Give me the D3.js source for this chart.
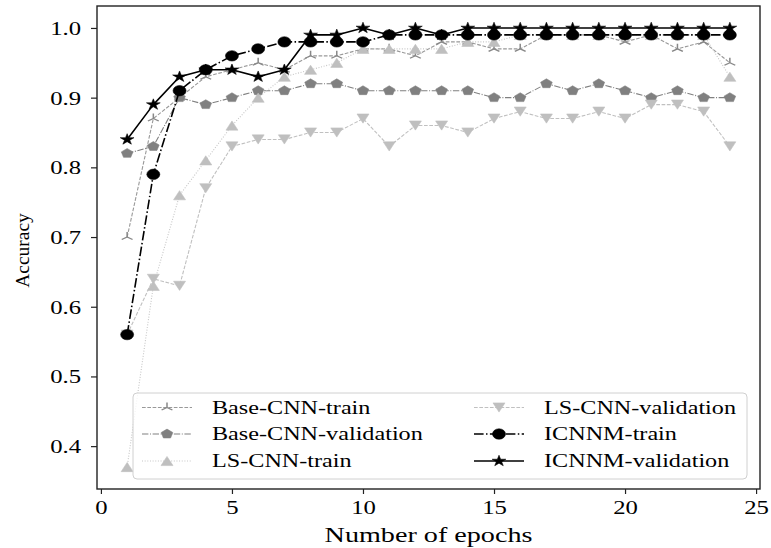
<!DOCTYPE html>
<html>
<head>
<meta charset="utf-8">
<script src="https://cdn.jsdelivr.net/npm/d3@7"></script>
<style>
  body { margin: 0; background: #fff; }
  svg { display: block; }
  text { font-family: "Liberation Serif", "Times New Roman", serif; fill: #000; }
</style>
</head>
<body>
<svg id="chart" width="771" height="548"></svg>
<script>
// Training / validation accuracy per epoch for three models
const epochs = [1, 2, 3, 4, 5, 6, 7, 8, 9, 10, 11, 12, 13, 14, 15, 16, 17, 18, 19, 20, 21, 22, 23, 24];

const baseCnnTrain = [0.70, 0.87, 0.90, 0.93, 0.94, 0.95, 0.94, 0.96, 0.96, 0.97, 0.97, 0.96,
                      0.98, 0.98, 0.97, 0.97, 0.99, 0.99, 0.99, 0.98, 0.99, 0.97, 0.98, 0.95];
const baseCnnVal   = [0.82, 0.83, 0.90, 0.89, 0.90, 0.91, 0.91, 0.92, 0.92, 0.91, 0.91, 0.91,
                      0.91, 0.91, 0.90, 0.90, 0.92, 0.91, 0.92, 0.91, 0.90, 0.91, 0.90, 0.90];
const lsCnnTrain   = [0.37, 0.63, 0.76, 0.81, 0.86, 0.90, 0.93, 0.94, 0.95, 0.97, 0.97, 0.97,
                      0.97, 0.98, 0.98, 0.99, 0.99, 0.99, 0.99, 0.99, 0.99, 0.99, 0.99, 0.93];
const lsCnnVal     = [0.56, 0.64, 0.63, 0.77, 0.83, 0.84, 0.84, 0.85, 0.85, 0.87, 0.83, 0.86,
                      0.86, 0.85, 0.87, 0.88, 0.87, 0.87, 0.88, 0.87, 0.89, 0.89, 0.88, 0.83];
const icnnmTrain   = [0.56, 0.79, 0.91, 0.94, 0.96, 0.97, 0.98, 0.98, 0.98, 0.98, 0.99, 0.99,
                      0.99, 0.99, 0.99, 0.99, 0.99, 0.99, 0.99, 0.99, 0.99, 0.99, 0.99, 0.99];
const icnnmVal     = [0.84, 0.89, 0.93, 0.94, 0.94, 0.93, 0.94, 0.99, 0.99, 1.00, 0.99, 1.00,
                      0.99, 1.00, 1.00, 1.00, 1.00, 1.00, 1.00, 1.00, 1.00, 1.00, 1.00, 1.00];

const seriesNames = ["Base-CNN-train", "Base-CNN-validation", "LS-CNN-train",
                     "LS-CNN-validation", "ICNNM-train", "ICNNM-validation"];
const xTicks = [0, 5, 10, 15, 20, 25];
const yTicks = [0.4, 0.5, 0.6, 0.7, 0.8, 0.9, 1.0];
const xTitle = "Number of epochs";
const yTitle = "Accuracy";

// Visual style for each series
const styles = [
  { line: "#999",    width: 1.1, dash: "3.7,1.6",          marker: "tri",      mcolor: "#888" },
  { line: "#808080", width: 1.1, dash: "6.4,1.6,1,1.6",    marker: "pentagon", mcolor: "#808080" },
  { line: "#c6c6c6", width: 1.1, dash: "1,1.65",           marker: "triUp",    mcolor: "#bfbfbf" },
  { line: "#c0c0c0", width: 1.1, dash: "3.7,1.6",          marker: "triDown",  mcolor: "#bfbfbf" },
  { line: "#000",    width: 1.6, dash: "9.6,2.4,1.5,2.4",  marker: "circle",   mcolor: "#000" },
  { line: "#000",    width: 1.6, dash: null,               marker: "star",     mcolor: "#000" }
];
const allSeries = [baseCnnTrain, baseCnnVal, lsCnnTrain, lsCnnVal, icnnmTrain, icnnmVal];

const svg = d3.select("#chart");
const plot = { left: 97, right: 760, top: 6, bottom: 489 };
const WIDE = 1.3;   // horizontal widening applied to text

const x = d3.scaleLinear().domain([-0.15, 25.15]).range([plot.left, plot.right]);
const y = d3.scaleLinear().domain([0.3385, 1.0315]).range([plot.bottom, plot.top]);

// Marker shapes, centred on the origin
function markerPath(kind) {
  if (kind === "circle") {
    const r = 5.2;
    return `M${r},0A${r},${r} 0 1 1 ${-r},0A${r},${r} 0 1 1 ${r},0Z`;
  }
  if (kind === "pentagon") {
    const r = 4.9;
    return "M" + d3.range(5).map(k => {
      const a = (-90 + k * 72) * Math.PI / 180;
      return [r * Math.cos(a), r * Math.sin(a)].join(",");
    }).join("L") + "Z";
  }
  if (kind === "triUp") {
    const w = 4.8, h = 4.6;
    return `M0,${-h}L${-w},${h}L${w},${h}Z`;
  }
  if (kind === "triDown") {
    const w = 4.8, h = 4.6;
    return `M0,${h}L${-w},${-h}L${w},${-h}Z`;
  }
  if (kind === "star") {
    const R = 5.8, r = R * 0.382;
    return "M" + d3.range(10).map(k => {
      const a = (-90 + k * 36) * Math.PI / 180;
      const rr = k % 2 === 0 ? R : r;
      return [rr * Math.cos(a), rr * Math.sin(a)].join(",");
    }).join("L") + "Z";
  }
  // three-armed "tri up" marker
  const R = 5;
  return `M0,0L0,${-R}M0,0L${-R * 0.866},${R * 0.5}M0,0L${R * 0.866},${R * 0.5}`;
}

function drawMarker(g, st, cx, cy) {
  const p = g.append("path")
    .attr("d", markerPath(st.marker))
    .attr("transform", `translate(${cx},${cy}) scale(1.25,1)`);
  if (st.marker === "tri") {
    p.attr("fill", "none").attr("stroke", st.mcolor).attr("stroke-width", 1.2);
  } else {
    p.attr("fill", st.mcolor).attr("stroke", st.mcolor).attr("stroke-width", 0.5);
  }
}

// Clip region for the data
svg.append("defs").append("clipPath").attr("id", "plotClip")
  .append("rect")
  .attr("x", plot.left).attr("y", plot.top)
  .attr("width", plot.right - plot.left).attr("height", plot.bottom - plot.top);

const dataG = svg.append("g").attr("clip-path", "url(#plotClip)");
const line = d3.line().x((d, i) => x(epochs[i])).y(d => y(d));

allSeries.forEach((vals, si) => {
  const st = styles[si];
  const g = dataG.append("g");
  g.append("path")
    .attr("d", line(vals))
    .attr("fill", "none")
    .attr("stroke", st.line)
    .attr("stroke-width", st.width)
    .attr("stroke-dasharray", st.dash)
    .attr("stroke-linejoin", "round");
  vals.forEach((v, i) => drawMarker(g, st, x(epochs[i]), y(v)));
});

// Widen text horizontally by a factor, keeping its anchor
function stretch(sel, factor) {
  sel.each(function () {
    const w = this.getComputedTextLength();
    d3.select(this).attr("textLength", w * factor).attr("lengthAdjust", "spacingAndGlyphs");
  });
}

// Axes
const xAxis = svg.append("g")
  .attr("transform", `translate(0,${plot.bottom})`)
  .call(d3.axisBottom(x).tickValues(xTicks).tickSize(5).tickPadding(7).tickFormat(d3.format("d")));
const yAxis = svg.append("g")
  .attr("transform", `translate(${plot.left},0)`)
  .call(d3.axisLeft(y).tickValues(yTicks).tickSize(6).tickPadding(10).tickFormat(d3.format(".1f")));

[xAxis, yAxis].forEach(ax => {
  ax.select(".domain").remove();
  ax.selectAll(".tick line").attr("stroke", "#222").attr("stroke-width", 1.2);
  ax.selectAll(".tick text")
    .attr("font-family", '"Liberation Serif", serif')
    .attr("font-size", 19)
    .attr("fill", "#000");
});
stretch(xAxis.selectAll(".tick text"), WIDE);
stretch(yAxis.selectAll(".tick text"), WIDE);
yAxis.selectAll(".tick text").attr("dy", "0.34em");

// Frame
svg.append("rect")
  .attr("x", plot.left).attr("y", plot.top)
  .attr("width", plot.right - plot.left).attr("height", plot.bottom - plot.top)
  .attr("fill", "none").attr("stroke", "#222").attr("stroke-width", 1.4);

// Axis titles
const xt = svg.append("text")
  .attr("x", (plot.left + plot.right) / 2).attr("y", 542)
  .attr("text-anchor", "middle").attr("font-size", 21)
  .text(xTitle);
stretch(xt, 1.34);

svg.append("text")
  .attr("transform", `translate(29,${(plot.top + plot.bottom) / 2 + 3}) rotate(-90)`)
  .attr("text-anchor", "middle").attr("font-size", 19.5)
  .text(yTitle);

// Legend: two columns of three entries
const legend = svg.append("g");
legend.append("rect")
  .attr("x", 133).attr("y", 393).attr("width", 614).attr("height", 86)
  .attr("rx", 4).attr("ry", 4)
  .attr("fill", "#fff").attr("fill-opacity", 0.8)
  .attr("stroke", "#d0d0d0").attr("stroke-width", 1);

const colX = [142, 474];
const rowY = [407.5, 434, 461];
seriesNames.forEach((name, i) => {
  const st = styles[i];
  const col = Math.floor(i / 3), row = i % 3;
  const x0 = colX[col], cy = rowY[row];
  const g = legend.append("g");
  g.append("line")
    .attr("x1", x0).attr("x2", x0 + 50).attr("y1", cy).attr("y2", cy)
    .attr("stroke", st.line).attr("stroke-width", st.width)
    .attr("stroke-dasharray", st.dash);
  drawMarker(g, st, x0 + 25, cy);
  const t = g.append("text")
    .attr("x", x0 + 70).attr("y", cy + 6.3)
    .attr("font-size", 18.6)
    .text(name);
  stretch(t, WIDE);
});
</script>
</body>
</html>
